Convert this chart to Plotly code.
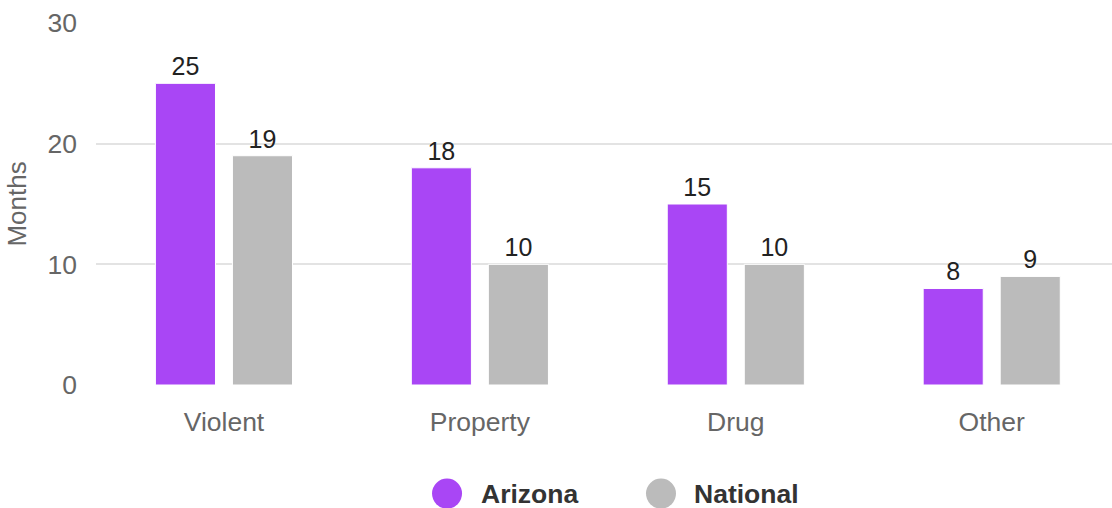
import plotly.graph_objects as go

categories = ["Violent", "Property", "Drug", "Other"]
arizona = [25, 18, 15, 8]
national = [19, 10, 10, 9]
series_names = ["Arizona", "National"]
y_ticks = [0, 10, 20, 30]

PURPLE = "#A946F5"
GREY = "#BBBBBB"
FONT = "Liberation Sans, Arial, sans-serif"

fig = go.Figure()
for name, vals, color in zip(series_names, [arizona, national], [PURPLE, GREY]):
    fig.add_trace(go.Bar(
        name=name,
        x=categories,
        y=vals,
        marker=dict(color=color, line=dict(color="white", width=1)),
        texttemplate="%{y}",
        textposition="outside",
        textfont=dict(size=25, color="#222222", family=FONT),
        cliponaxis=False,
        showlegend=False,
        hoverinfo="x+y+name",
    ))

fig.update_layout(
    width=1112,
    height=508,
    margin=dict(l=96, r=0, t=23, b=123),
    paper_bgcolor="white",
    plot_bgcolor="white",
    barmode="group",
    bargap=0.398,
    bargroupgap=0.22,
    font=dict(family=FONT, size=26, color="#666666"),
    xaxis=dict(
        range=[-0.5, 3.47],
        showgrid=False,
        showline=False,
        zeroline=False,
        ticks="",
        tickfont=dict(size=26.5, color="#666666"),
        ticklabelstandoff=18,
    ),
    yaxis=dict(
        range=[0, 30],
        tickvals=y_ticks,
        showgrid=True,
        gridcolor="#E3E3E3",
        gridwidth=2,
        zeroline=False,
        showline=False,
        ticks="",
        tickfont=dict(size=26.5, color="#666666"),
        ticklabelstandoff=18,
        title=dict(text="Months", font=dict(size=26, color="#666666"), standoff=13),
    ),
)

# Legend drawn as circle markers with bold labels beneath the plot
legend_items = [
    ("Arizona", PURPLE, 0.3455, 0.377),
    ("National", GREY, 0.5561, 0.5866),
]
legend_y = -0.300
for label, color, cx, tx in legend_items:
    fig.add_shape(
        type="circle",
        xref="paper", yref="paper",
        xsizemode="pixel", ysizemode="pixel",
        xanchor=cx, yanchor=legend_y,
        x0=-15, x1=15, y0=-15, y1=15,
        fillcolor=color,
        line=dict(width=0),
    )
    fig.add_annotation(
        x=tx, y=legend_y,
        xref="paper", yref="paper",
        xanchor="left", yanchor="middle",
        text=f"<b>{label}</b>",
        showarrow=False,
        font=dict(size=26.5, color="#333333", family=FONT),
    )

fig.write_html("out.html")
